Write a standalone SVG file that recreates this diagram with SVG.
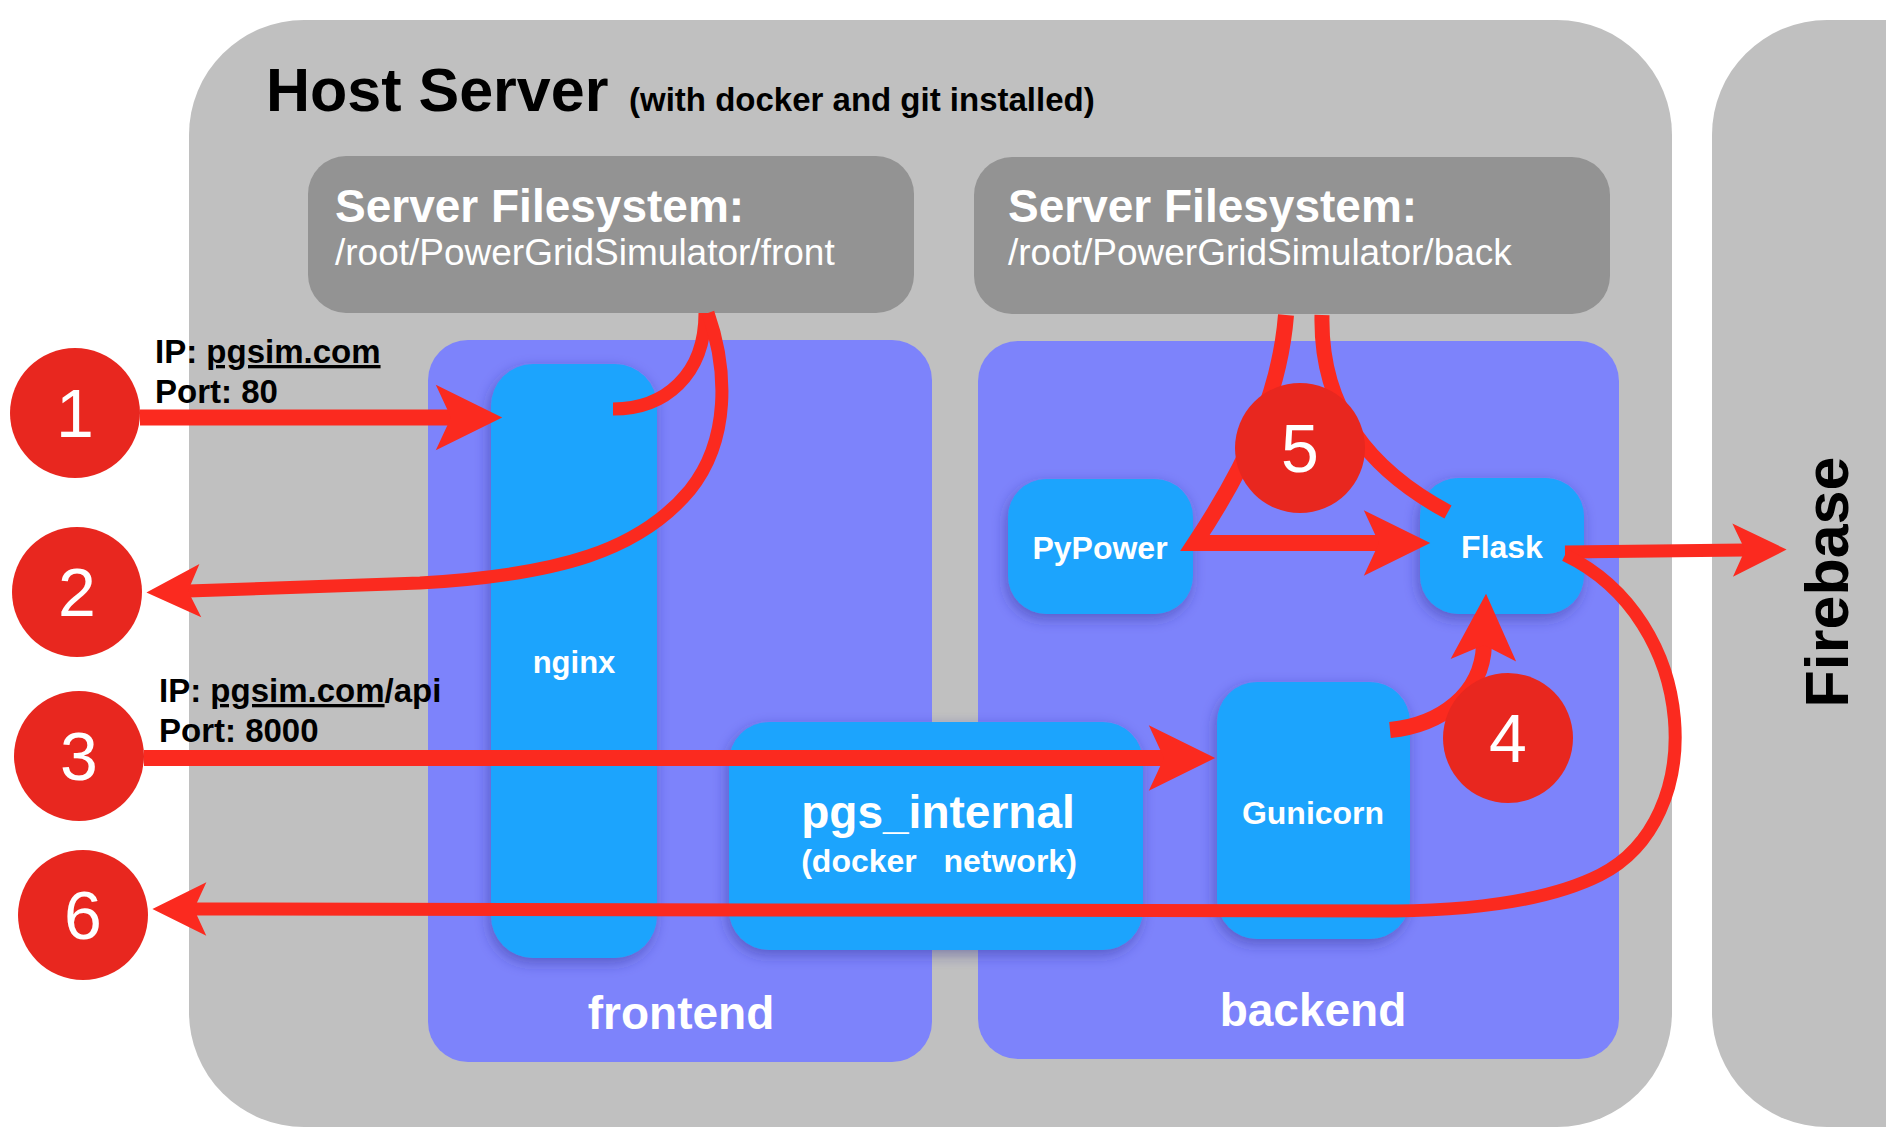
<svg xmlns="http://www.w3.org/2000/svg" width="1886" height="1148" viewBox="0 0 1886 1148">
  <style>
    .t{font-family:"Liberation Sans",Arial,Helvetica,sans-serif}
    .host{fill:#c0c0c0}
    .fs{fill:#939393}
    .ctr{fill:#7d83fb}
    .box{fill:#1da4fd;filter:url(#sh)}
    .w{fill:#ffffff}
    .b{font-weight:bold}
    .k{fill:#000000}
    .conn{fill:none;stroke:#fb2a1f;stroke-linecap:butt;stroke-linejoin:miter}
    .badge circle{fill:#e8271f}
    .badge text{font-family:"Liberation Sans",Arial,Helvetica,sans-serif;font-size:68px;fill:#ffffff;text-anchor:middle}
  </style>
  <defs>
    <filter id="sh" x="-30%" y="-30%" width="160%" height="160%">
      <feDropShadow dx="-2" dy="5" stdDeviation="7" flood-color="#2b2f8a" flood-opacity="0.45"/>
    </filter>
    <marker id="ah" markerUnits="strokeWidth" viewBox="-1 -2.1 4.3 4.2" markerWidth="4.3" markerHeight="4.2" refX="0" refY="0" orient="auto" overflow="visible">
      <path d="M3.2,0 L-0.95,-2.05 L0,0 L-0.95,2.05 Z" fill="#fb2a1f"/>
    </marker>
  </defs>

  <rect width="1886" height="1148" fill="#ffffff"/>

  <g id="host-server">
    <rect class="host" x="189" y="20" width="1483" height="1107" rx="115" ry="115"/>
    <text class="t b k" x="266" y="111" font-size="61">Host Server</text>
    <text class="t b k" x="629" y="111" font-size="33">(with docker and git installed)</text>
  </g>

  <g id="firebase">
    <rect class="host" x="1712" y="20" width="300" height="1107" rx="115" ry="115"/>
    <text class="t b k" font-size="61" text-anchor="middle" transform="translate(1848,582) rotate(-90)">Firebase</text>
  </g>

  <g id="fs-front">
    <rect class="fs" x="308" y="156" width="606" height="157" rx="38"/>
    <text class="t b w" x="335" y="222" font-size="46">Server Filesystem:</text>
    <text class="t w" x="335" y="265" font-size="37">/root/PowerGridSimulator/front</text>
  </g>

  <g id="fs-back">
    <rect class="fs" x="974" y="157" width="636" height="157" rx="38"/>
    <text class="t b w" x="1008" y="222" font-size="46">Server Filesystem:</text>
    <text class="t w" x="1008" y="265" font-size="37">/root/PowerGridSimulator/back</text>
  </g>

  <g id="frontend">
    <rect class="ctr" x="428" y="340" width="504" height="722" rx="40"/>
    <text class="t b w" x="681" y="1029" font-size="46" text-anchor="middle">frontend</text>
  </g>

  <g id="backend">
    <rect class="ctr" x="978" y="341" width="641" height="718" rx="40"/>
    <text class="t b w" x="1313" y="1026" font-size="46" text-anchor="middle">backend</text>
  </g>

  <g id="nginx">
    <rect class="box" x="491" y="364" width="166" height="594" rx="42"/>
    <text class="t b w" x="574" y="673" font-size="31" text-anchor="middle">nginx</text>
  </g>

  <g id="pgs-internal">
    <rect class="box" x="729" y="722" width="414" height="228" rx="40"/>
    <text class="t b w" x="938" y="828" font-size="46" text-anchor="middle">pgs_internal</text>
    <text class="t b w" x="939" y="872" font-size="32" text-anchor="middle" xml:space="preserve" style="white-space:pre">(docker   network)</text>
  </g>

  <g id="gunicorn">
    <rect class="box" x="1217" y="682" width="193" height="257" rx="40"/>
    <text class="t b w" x="1313" y="824" font-size="32" text-anchor="middle">Gunicorn</text>
  </g>

  <g id="pypower">
    <rect class="box" x="1008" y="479" width="185" height="135" rx="38"/>
    <text class="t b w" x="1100" y="559" font-size="32" text-anchor="middle">PyPower</text>
  </g>

  <g id="flask">
    <rect class="box" x="1420" y="478" width="164" height="136" rx="38"/>
    <text class="t b w" x="1502" y="558" font-size="32" text-anchor="middle">Flask</text>
  </g>

  <g id="connectors">
    <path class="conn" stroke-width="16" d="M140,417.5 L451,417.5" marker-end="url(#ah)"/>
    <path class="conn" stroke-width="13" d="M613,409 C665,409 705,375 705,313"/>
    <path class="conn" stroke-width="13" d="M708,313 C728,370 730,440 690,490 C640,550 560,575 420,583 L188,591" marker-end="url(#ah)"/>
    <path class="conn" stroke-width="16" d="M144,758 L1164,758" marker-end="url(#ah)"/>
    <path class="conn" stroke-width="16" d="M1390,730 C1440,725 1482,695 1484,645" marker-end="url(#ah)"/>
    <path class="conn" stroke-width="16" d="M1286,315 C1280,390 1250,460 1195,543 L1379,543" marker-end="url(#ah)"/>
    <path class="conn" stroke-width="15" d="M1322,315 C1320,410 1370,470 1448,512"/>
    <path class="conn" stroke-width="13" d="M1565,552 L1745,550" marker-end="url(#ah)"/>
    <path class="conn" stroke-width="13" d="M1565,555 C1700,620 1710,820 1600,875 C1550,900 1480,910 1395,911 L194,909" marker-end="url(#ah)"/>
  </g>

  <g id="step-1" class="badge"><circle cx="75" cy="413" r="65"/><text x="75" y="437">1</text></g>
  <g id="step-2" class="badge"><circle cx="77" cy="592" r="65"/><text x="77" y="616">2</text></g>
  <g id="step-3" class="badge"><circle cx="79" cy="756" r="65"/><text x="79" y="780">3</text></g>
  <g id="step-4" class="badge"><circle cx="1508" cy="738" r="65"/><text x="1508" y="762">4</text></g>
  <g id="step-5" class="badge"><circle cx="1300" cy="448" r="65"/><text x="1300" y="472">5</text></g>
  <g id="step-6" class="badge"><circle cx="83" cy="915" r="65"/><text x="83" y="939">6</text></g>

  <g id="labels">
    <text class="t b k" x="155" y="363" font-size="33">IP: <tspan text-decoration="underline">pgsim.com</tspan></text>
    <text class="t b k" x="155" y="403" font-size="33">Port: 80</text>
    <text class="t b k" x="159" y="702" font-size="33">IP: <tspan text-decoration="underline">pgsim.com</tspan>/api</text>
    <text class="t b k" x="159" y="742" font-size="33">Port: 8000</text>
  </g>
</svg>
